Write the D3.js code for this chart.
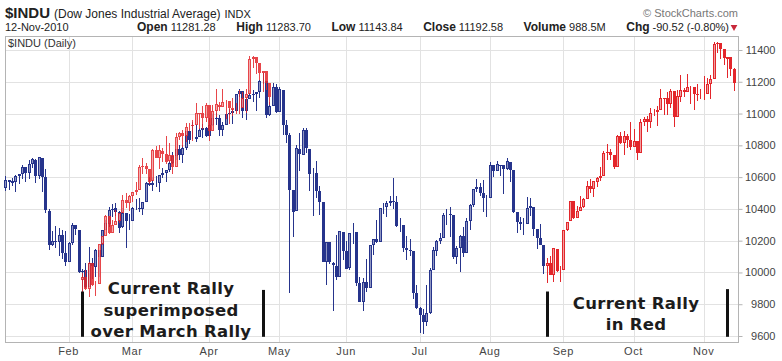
<!DOCTYPE html>
<html>
<head>
<meta charset="utf-8">
<script src="https://cdn.jsdelivr.net/npm/d3@7"></script>
<style>
  body { margin: 0; background: #fff; }
  svg { display: block; font-family: "Liberation Sans", Arial, sans-serif; }
</style>
</head>
<body>
<div id="chart"></div>
<script>
// Daily $INDU bars, 2010. Rows: [day, open, high, low, close]
const jan = [
  [4, 10530, 10604, 10510, 10584], [5, 10584, 10584, 10522, 10572], [6, 10564, 10595, 10546, 10574],
  [7, 10571, 10612, 10505, 10607], [8, 10606, 10619, 10554, 10618], [11, 10620, 10676, 10591, 10664],
  [12, 10662, 10663, 10568, 10627], [13, 10628, 10709, 10587, 10681], [14, 10680, 10723, 10656, 10711],
  [15, 10706, 10712, 10561, 10610], [19, 10608, 10729, 10591, 10725], [20, 10720, 10720, 10507, 10603],
  [21, 10602, 10650, 10375, 10390], [22, 10388, 10397, 10143, 10173], [25, 10175, 10260, 10167, 10197],
  [26, 10195, 10292, 10153, 10194], [27, 10192, 10279, 10106, 10236], [28, 10236, 10269, 10086, 10120],
  [29, 10121, 10259, 10040, 10067]
];
const feb = [
  [1, 10068, 10190, 10068, 10186], [2, 10186, 10314, 10172, 10297], [3, 10296, 10299, 10236, 10271],
  [4, 10270, 10270, 9999, 10002], [5, 10002, 10024, 9835, 10012], [8, 10013, 10060, 9900, 9908],
  [9, 9908, 10160, 9908, 10059], [10, 10058, 10093, 9960, 10038], [11, 10037, 10150, 9970, 10144],
  [12, 10143, 10143, 9973, 10099], [16, 10100, 10270, 10100, 10269], [17, 10269, 10330, 10266, 10309],
  [18, 10308, 10410, 10288, 10393], [19, 10392, 10430, 10347, 10402], [22, 10403, 10439, 10356, 10383],
  [23, 10383, 10388, 10249, 10282], [24, 10283, 10404, 10282, 10374], [25, 10373, 10373, 10156, 10321],
  [26, 10321, 10367, 10267, 10325]
];
const mar = [
  [1, 10325, 10410, 10325, 10404], [2, 10404, 10460, 10390, 10406], [3, 10406, 10466, 10380, 10397],
  [4, 10397, 10446, 10363, 10444], [5, 10445, 10570, 10445, 10566], [8, 10566, 10598, 10542, 10553],
  [9, 10552, 10601, 10510, 10564], [10, 10564, 10605, 10540, 10567], [11, 10566, 10614, 10507, 10612],
  [12, 10612, 10658, 10597, 10625], [15, 10624, 10643, 10569, 10642], [16, 10642, 10703, 10630, 10686],
  [17, 10686, 10760, 10685, 10734], [18, 10733, 10780, 10710, 10779], [19, 10779, 10800, 10706, 10742],
  [22, 10741, 10800, 10690, 10786], [23, 10786, 10893, 10773, 10889], [24, 10888, 10889, 10806, 10836],
  [25, 10836, 10950, 10838, 10841], [26, 10841, 10925, 10824, 10850], [29, 10851, 10912, 10850, 10896],
  [30, 10895, 10936, 10848, 10907], [31, 10907, 10917, 10855, 10857]
];
const apr = [
  [1, 10857, 10975, 10857, 10927], [5, 10927, 10998, 10924, 10974], [6, 10973, 11006, 10929, 10970],
  [7, 10969, 10990, 10860, 10898], [8, 10897, 10947, 10860, 10928], [9, 10928, 10999, 10928, 10997],
  [12, 10997, 11030, 10990, 11006], [13, 11005, 11028, 10932, 11019], [14, 11019, 11124, 11019, 11123],
  [15, 11123, 11155, 11102, 11145], [16, 11144, 11144, 10972, 11019], [19, 11018, 11093, 10962, 11092],
  [20, 11092, 11148, 11092, 11117], [21, 11117, 11149, 11070, 11125], [22, 11124, 11137, 11016, 11134],
  [23, 11134, 11213, 11097, 11204], [26, 11204, 11258, 11184, 11205], [27, 11205, 11205, 10972, 10992],
  [28, 10992, 11075, 10985, 11045], [29, 11046, 11195, 11046, 11167], [30, 11167, 11183, 11005, 11009]
];
const may = [
  [3, 11009, 11167, 11009, 11152], [4, 11151, 11151, 10866, 10927], [5, 10926, 10959, 10813, 10868],
  [6, 10868, 10879, 9870, 10520], [7, 10519, 10520, 10221, 10380], [10, 10386, 10805, 10386, 10785],
  [11, 10780, 10880, 10640, 10748], [12, 10742, 10912, 10742, 10897], [13, 10896, 10912, 10753, 10783],
  [14, 10780, 10780, 10515, 10620], [17, 10620, 10660, 10355, 10626], [18, 10625, 10700, 10470, 10511],
  [19, 10510, 10547, 10360, 10444], [20, 10443, 10443, 10065, 10068], [21, 10066, 10194, 9918, 10193],
  [24, 10193, 10193, 10055, 10067], [25, 10062, 10063, 9758, 10044], [26, 10043, 10236, 9955, 9974],
  [27, 9974, 10260, 9974, 10259], [28, 10257, 10257, 10080, 10137]
];
const jun = [
  [1, 10136, 10200, 10021, 10024], [2, 10025, 10250, 10016, 10250], [3, 10249, 10310, 10180, 10255],
  [4, 10255, 10255, 9912, 9932], [7, 9931, 9970, 9815, 9816], [8, 9816, 9963, 9757, 9940],
  [9, 9940, 10086, 9875, 9899], [10, 9900, 10173, 9900, 10173], [11, 10172, 10213, 10108, 10211],
  [14, 10212, 10332, 10185, 10191], [15, 10191, 10405, 10190, 10405], [16, 10404, 10436, 10370, 10409],
  [17, 10409, 10450, 10347, 10434], [18, 10434, 10484, 10416, 10451], [21, 10450, 10595, 10400, 10442],
  [22, 10442, 10482, 10288, 10294], [23, 10293, 10340, 10256, 10298], [24, 10298, 10298, 10130, 10153],
  [25, 10153, 10232, 10080, 10144], [28, 10144, 10210, 10104, 10139], [29, 10138, 10138, 9834, 9870],
  [30, 9870, 9919, 9770, 9774]
];
const jul = [
  [1, 9774, 9783, 9621, 9733], [2, 9733, 9773, 9614, 9686], [6, 9688, 9918, 9660, 9744],
  [7, 9743, 10025, 9736, 10018], [8, 10018, 10160, 10018, 10139], [9, 10138, 10206, 10103, 10198],
  [12, 10198, 10250, 10176, 10216], [13, 10217, 10376, 10217, 10363], [14, 10363, 10401, 10300, 10367],
  [15, 10366, 10413, 10220, 10359], [16, 10359, 10359, 10085, 10098], [19, 10097, 10167, 10053, 10154],
  [20, 10154, 10233, 10000, 10230], [21, 10230, 10287, 10100, 10121], [22, 10121, 10340, 10121, 10322],
  [23, 10322, 10432, 10270, 10425], [26, 10425, 10526, 10415, 10525], [27, 10525, 10590, 10506, 10538],
  [28, 10537, 10565, 10478, 10498], [29, 10497, 10580, 10380, 10467], [30, 10466, 10490, 10350, 10466]
];
const aug = [
  [2, 10468, 10694, 10468, 10674], [3, 10674, 10679, 10598, 10636], [4, 10636, 10703, 10636, 10680],
  [5, 10679, 10679, 10608, 10675], [6, 10674, 10674, 10494, 10654], [9, 10654, 10719, 10645, 10699],
  [10, 10698, 10698, 10569, 10644], [11, 10643, 10643, 10371, 10379], [12, 10378, 10378, 10247, 10320],
  [13, 10319, 10346, 10265, 10303], [16, 10302, 10343, 10233, 10302], [17, 10302, 10474, 10302, 10406],
  [18, 10406, 10467, 10353, 10416], [19, 10415, 10415, 10228, 10271], [20, 10271, 10271, 10147, 10214],
  [23, 10214, 10306, 10171, 10174], [24, 10174, 10174, 9991, 10040], [25, 10040, 10089, 9936, 10060],
  [26, 10060, 10103, 9981, 9986], [27, 9986, 10154, 9937, 10151], [30, 10150, 10150, 10005, 10010],
  [31, 10010, 10039, 9941, 10015]
];
const sep = [
  [1, 10016, 10270, 10016, 10269], [2, 10270, 10320, 10260, 10320], [3, 10321, 10451, 10321, 10448],
  [7, 10448, 10448, 10334, 10341], [8, 10340, 10421, 10340, 10387], [9, 10388, 10481, 10388, 10415],
  [10, 10415, 10467, 10403, 10463], [13, 10463, 10576, 10463, 10544], [14, 10545, 10590, 10497, 10526],
  [15, 10526, 10576, 10477, 10573], [16, 10572, 10599, 10536, 10595], [17, 10595, 10662, 10575, 10608],
  [20, 10608, 10767, 10607, 10754], [21, 10753, 10808, 10710, 10761], [22, 10760, 10777, 10710, 10739],
  [23, 10738, 10738, 10648, 10662], [24, 10664, 10867, 10664, 10860], [27, 10860, 10885, 10809, 10812],
  [28, 10812, 10889, 10742, 10858], [29, 10857, 10874, 10783, 10835], [30, 10836, 10948, 10772, 10788]
];
const oct = [
  [1, 10789, 10905, 10788, 10830], [4, 10829, 10829, 10709, 10751], [5, 10752, 10966, 10752, 10945],
  [6, 10944, 10977, 10922, 10968], [7, 10968, 10985, 10882, 10949], [8, 10948, 11032, 10908, 11006],
  [11, 11006, 11029, 10982, 11010], [12, 11009, 11049, 10920, 11020], [13, 11021, 11154, 11021, 11096],
  [14, 11096, 11096, 10993, 11095], [15, 11095, 11135, 10990, 11063], [18, 11062, 11157, 11034, 11144],
  [19, 11143, 11143, 10917, 10979], [20, 10978, 11146, 10978, 11108], [21, 11107, 11242, 11070, 11147],
  [22, 11146, 11161, 11103, 11133], [25, 11133, 11247, 11133, 11164], [26, 11163, 11173, 11057, 11169],
  [27, 11168, 11168, 11022, 11126], [28, 11126, 11189, 11077, 11114], [29, 11114, 11156, 11090, 11118]
];
const nov = [
  [1, 11119, 11236, 11087, 11125], [2, 11125, 11226, 11125, 11189], [3, 11188, 11245, 11093, 11215],
  [4, 11216, 11452, 11216, 11435], [5, 11435, 11451, 11378, 11444], [8, 11443, 11443, 11342, 11407],
  [9, 11406, 11408, 11303, 11347], [10, 11346, 11357, 11226, 11357], [11, 11356, 11356, 11236, 11283],
  [12, 11281, 11284, 11144, 11193]
];
const months = [jan, feb, mar, apr, may, jun, jul, aug, sep, oct, nov];

const yTicks = [9600, 9800, 10000, 10200, 10400, 10600, 10800, 11000, 11200, 11400];

// current rally (red) and where it is laid over the March rally
const rallyStart = "2010-08-25";
const overlayStart = "2010-02-05";
const overlayPriceShift = -90;

// black marker bars: [date, top price, bottom price]
const markers = [
  ["2010-02-05", 9880, 9595], ["2010-04-26", 9890, 9595],
  ["2010-08-25", 9880, 9595], ["2010-11-10", 9895, 9595]
];

const quote = [
  ["Open", "11281.28"], ["High", "11283.70"], ["Low", "11143.84"],
  ["Close", "11192.58"], ["Volume", "988.5M"], ["Chg", "-90.52 (-0.80%)"]
];

///////// build bars //////////
const fmt = d3.timeFormat("%Y-%m-%d");
const bars = months.flatMap((rows, m) =>
  rows.map(([day, o, h, l, c]) => {
    const date = new Date(2010, m, day);
    return { date, key: fmt(date), o, h, l, c };
  })
);

const W = 782, H = 361;
const plot = { left: 5, right: 738, top: 36, bottom: 342 };

const svg = d3.select("#chart").append("svg").attr("width", W).attr("height", H);

const x = d3.scaleBand().domain(bars.map(d => d.key)).range([3.5, 735.5]);
const cx = key => x(key) + x.bandwidth() / 2;
const y = d3.scaleLinear().domain([9600, 11400]).range([336, 50]);

const NAVY = "#26348c", NAVY_HOLLOW = "#9097c2";
const RED = "#e3262b", RED_HOLLOW = "#f0a0a0";

///////// grid & frame //////////
const monthStarts = d3.groups(bars, d => d.date.getMonth()).map(g => g[1][0]).slice(1);

svg.append("g").selectAll("line.h").data(yTicks).join("line")
  .attr("x1", plot.left).attr("x2", plot.right)
  .attr("y1", d => Math.round(y(d)) + 0.5).attr("y2", d => Math.round(y(d)) + 0.5)
  .attr("stroke", "#e2e2e2");

svg.append("g").selectAll("line.v").data(monthStarts).join("line")
  .attr("x1", d => Math.round(cx(d.key)) + 0.5).attr("x2", d => Math.round(cx(d.key)) + 0.5)
  .attr("y1", plot.top).attr("y2", plot.bottom)
  .attr("stroke", "#e2e2e2");

svg.append("rect")
  .attr("x", plot.left + 0.5).attr("y", plot.top + 0.5)
  .attr("width", plot.right - plot.left).attr("height", plot.bottom - plot.top)
  .attr("fill", "none").attr("stroke", "#b4b4b4");

// y axis on the right
const yAxis = svg.append("g")
  .attr("transform", `translate(${plot.right + 0.5},0)`)
  .call(d3.axisRight(y).tickValues(yTicks).tickSize(4).tickPadding(2).tickFormat(d3.format("d")));
yAxis.select(".domain").remove();
yAxis.selectAll("line").attr("stroke", "#b4b4b4");
yAxis.selectAll("text")
  .attr("x", 37).attr("text-anchor", "end")
  .attr("fill", "#444").style("font-size", "11px")
  .style("font-family", "'Liberation Sans', Arial, sans-serif");

// month labels
svg.append("g").selectAll("text").data(monthStarts).join("text")
  .attr("x", d => cx(d.key)).attr("y", 355)
  .attr("text-anchor", "middle")
  .attr("fill", "#444").style("font-size", "11px").style("letter-spacing", "0.6px")
  .text(d => d3.timeFormat("%b")(d.date));

///////// candles //////////
function drawCandles(g, data, color, hollow, xOf, shift) {
  const items = g.selectAll("g").data(data).join("g");
  items.append("line")
    .attr("x1", d => Math.round(xOf(d)) + 0.5).attr("x2", d => Math.round(xOf(d)) + 0.5)
    .attr("y1", d => y(d.h + shift)).attr("y2", d => y(d.l + shift))
    .attr("stroke", color).attr("stroke-width", 1);
  items.filter(d => d.c < d.o).append("rect")
    .attr("x", d => Math.round(xOf(d)) - 1)
    .attr("y", d => y(d.o + shift))
    .attr("width", 3)
    .attr("height", d => Math.max(1, y(d.c + shift) - y(d.o + shift)))
    .attr("fill", color);
  items.filter(d => d.c >= d.o).append("rect")
    .attr("x", d => Math.round(xOf(d)) - 0.5)
    .attr("y", d => y(d.c + shift) + 0.5)
    .attr("width", 2)
    .attr("height", d => Math.max(0, y(d.o + shift) - y(d.c + shift) - 1))
    .attr("fill", hollow)
    .attr("stroke", color);
}

const rallyIdx = bars.findIndex(d => d.key === rallyStart);
const overlayIdx = bars.findIndex(d => d.key === overlayStart);
const offset = rallyIdx - overlayIdx;
const rally = bars.slice(rallyIdx);
const before = bars.slice(0, rallyIdx);

const candles = svg.append("g").attr("shape-rendering", "crispEdges");
drawCandles(candles.append("g"), before, NAVY, NAVY_HOLLOW, d => cx(d.key), 0);
// current rally superimposed over the March rally
drawCandles(candles.append("g").attr("opacity", 0.85), rally, RED, RED_HOLLOW,
  d => cx(bars[bars.indexOf(d) - offset].key), overlayPriceShift);
drawCandles(candles.append("g"), rally, RED, RED_HOLLOW, d => cx(d.key), 0);

///////// annotations //////////
svg.append("g").selectAll("rect").data(markers).join("rect")
  .attr("x", d => Math.round(cx(d[0])) - 1)
  .attr("y", d => y(d[1]))
  .attr("width", 3)
  .attr("height", d => y(d[2]) - y(d[1]))
  .attr("fill", "#111");

const bigText = (lines, cxPos, y0) => svg.append("g").selectAll("text").data(lines).join("text")
  .attr("x", cxPos).attr("y", (d, i) => y0 + i * 21.5)
  .attr("text-anchor", "middle")
  .style("font-family", "'DejaVu Sans', Verdana, sans-serif")
  .style("font-weight", "bold").style("font-size", "16.5px").style("letter-spacing", "0.3px")
  .attr("fill", "#1c1c1c")
  .text(d => d);

bigText(["Current Rally", "superimposed", "over March Rally"], 171, 294);
bigText(["Current Rally", "in Red"], 636, 308.5);

svg.append("text").attr("x", 8).attr("y", 47)
  .attr("fill", "#333").style("font-size", "11px")
  .text("$INDU (Daily)");

///////// header //////////
const t1 = svg.append("text").attr("x", 5).attr("y", 18).attr("fill", "#222");
t1.append("tspan").style("font-weight", "bold").style("font-size", "15px").text("$INDU");
t1.append("tspan").style("font-size", "12px").attr("dx", 4).text("(Dow Jones Industrial Average)");
t1.append("tspan").style("font-size", "11px").attr("dx", 4).text("INDX");

svg.append("text").attr("x", 738).attr("y", 17).attr("text-anchor", "end")
  .attr("fill", "#777").style("font-size", "11px").text("© StockCharts.com");

svg.append("text").attr("x", 5).attr("y", 31).attr("fill", "#222")
  .style("font-size", "11px").text("12-Nov-2010");

// quote line: spread evenly between x=137 and the triangle
const q = svg.append("g").selectAll("text").data(quote).join("text")
  .attr("y", 31).attr("fill", "#222").style("font-size", "11px");
q.append("tspan").style("font-weight", "bold").style("font-size", "12px").text(d => d[0]);
q.append("tspan").attr("dx", 3).text(d => d[1]);
const widths = q.nodes().map(n => n.getComputedTextLength());
const gap = (726 - 137 - d3.sum(widths)) / (widths.length - 1);
let qx = 137;
q.each(function (d, i) {
  d3.select(this).attr("x", qx);
  qx += widths[i] + gap;
});

svg.append("path")
  .attr("d", d3.symbol(d3.symbolTriangle, 20)())
  .attr("transform", "translate(734,27) rotate(180)")
  .attr("fill", "#c8283a");
</script>
</body>
</html>
